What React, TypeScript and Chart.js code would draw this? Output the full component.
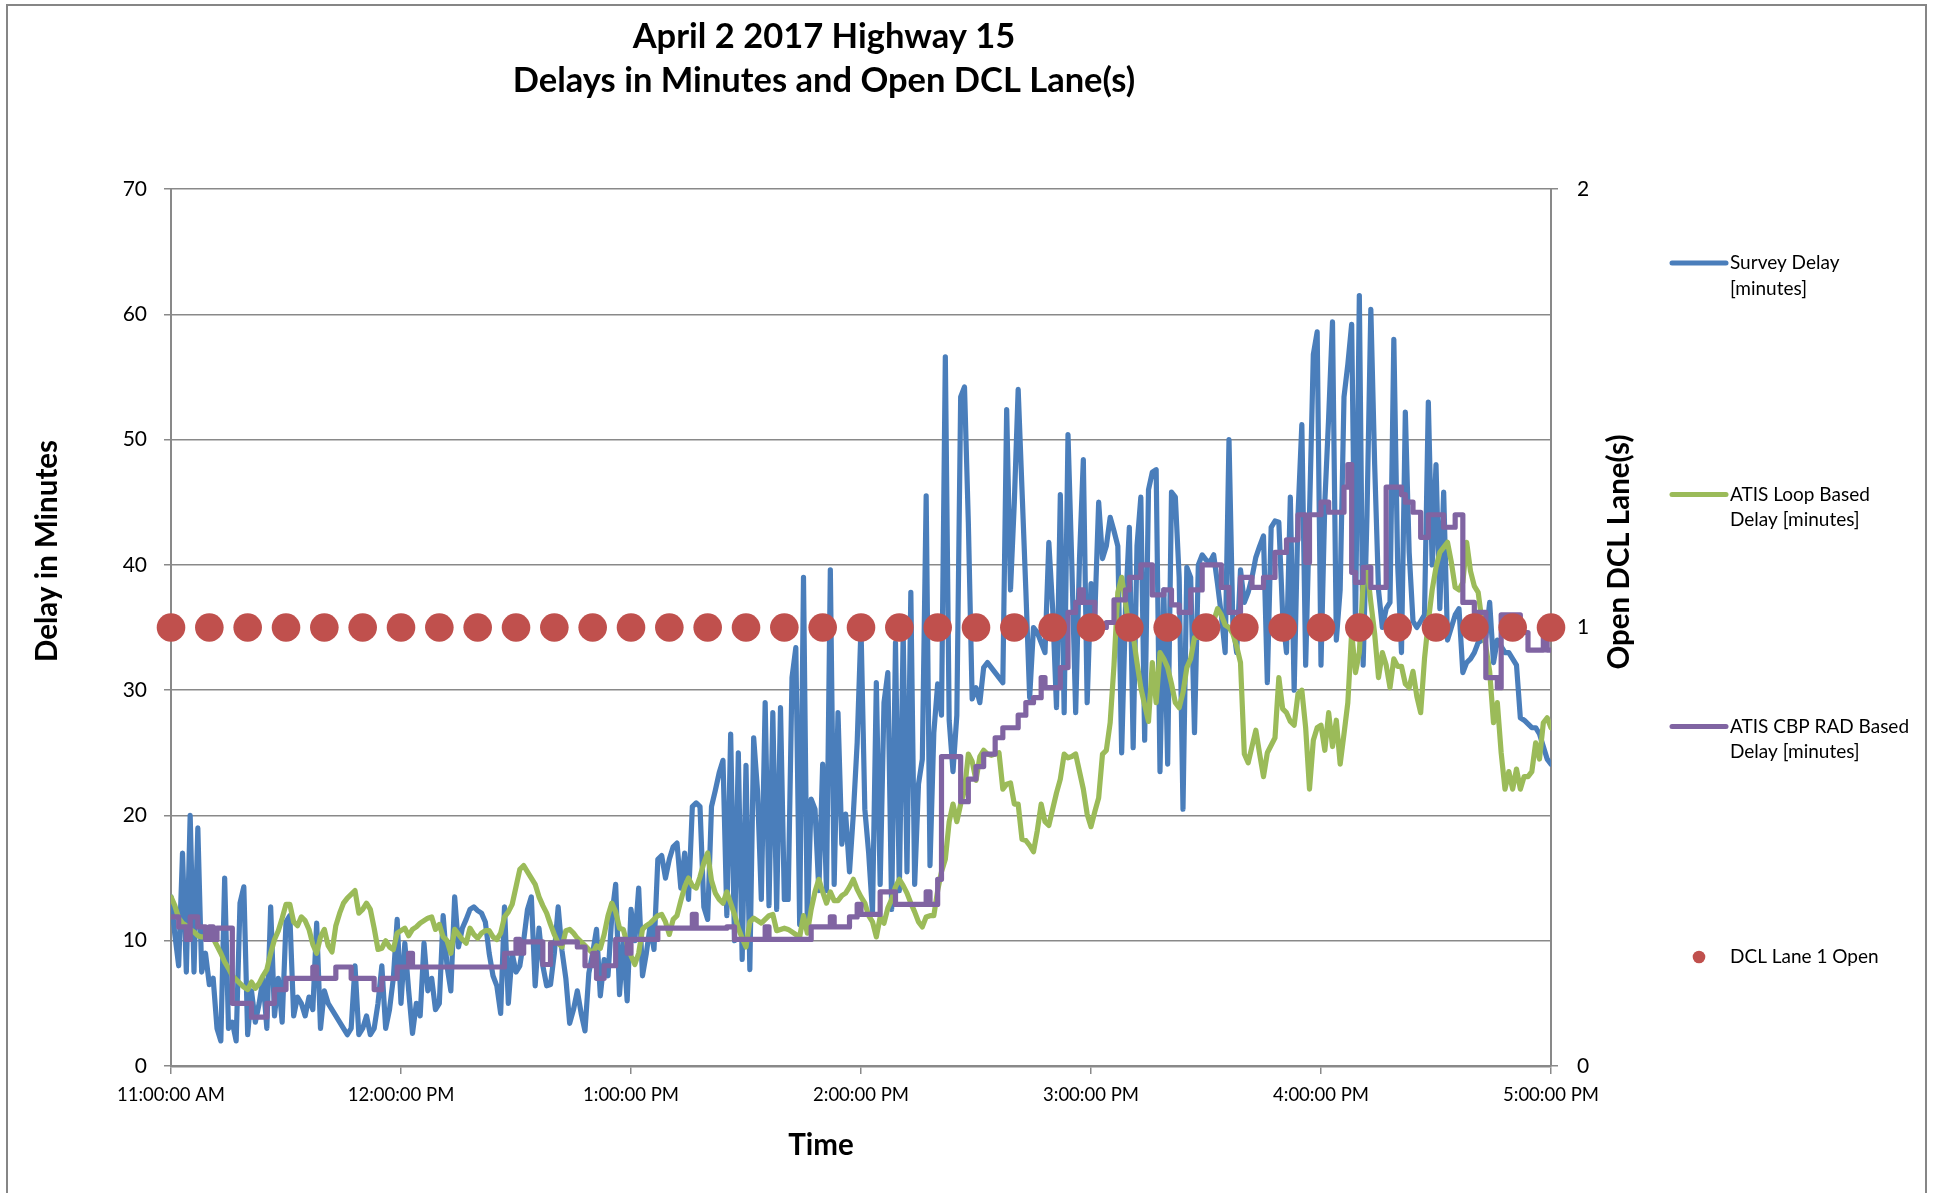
import React, { useEffect, useRef } from "react";
import { Chart, registerables } from "chart.js";

Chart.register(...registerables);

// ---------------- data ----------------
const titleLines = ["April 2 2017 Highway 15", "Delays in Minutes and Open DCL Lane(s)"];
const xAxisTitle = "Time";
const yAxisTitle = "Delay in Minutes";
const y1AxisTitle = "Open DCL Lane(s)";

// x tick labels, one per hour (x values are minutes after 11:00 AM)
const tickLabels = ["11:00:00 AM", "12:00:00 PM", "1:00:00 PM", "2:00:00 PM", "3:00:00 PM", "4:00:00 PM", "5:00:00 PM"];

const seriesNames = [
  "Survey Delay [minutes]",
  "ATIS Loop Based Delay [minutes]",
  "ATIS CBP RAD Based Delay [minutes]",
  "DCL Lane 1 Open",
];
const legendLines = [
  ["Survey Delay", "[minutes]"],
  ["ATIS Loop Based", "Delay [minutes]"],
  ["ATIS CBP RAD Based", "Delay [minutes]"],
  ["DCL Lane 1 Open"],
];

// one value per minute, 11:00 AM .. 5:00 PM
const surveyDelay = [
  13.5, 10.5, 8, 17, 7.5, 20, 7.5, 19, 7.5, 9,
  6.5, 7, 3, 2, 15, 3, 3.5, 2, 13, 14.3,
  2.5, 6, 3.5, 5, 7, 3, 12.7, 4, 7, 3.5,
  11.5, 12, 4, 5.5, 5, 4, 5.5, 4.5, 11.4, 3,
  6, 5, 4.5, 4, 3.5, 3, 2.5, 3, 8, 2.5,
  3, 4, 2.5, 3, 5, 8, 3, 4.5, 7, 11.7,
  5, 9.8, 6, 2.6, 5, 4, 9.8, 6, 7, 4.5,
  5, 12, 8, 6, 13.5, 9.5, 11, 11.7, 12.5, 12.7,
  12.4, 12.2, 11.5, 9, 7.2, 6.4, 4.2, 12.7, 5, 9,
  7.5, 8, 10, 12.5, 13.5, 6.4, 11, 8, 6.4, 6.5,
  9, 12.7, 9.2, 7, 3.4, 4.5, 6, 4.2, 2.8, 7.4,
  9, 10.9, 5.6, 8.5, 7.2, 12, 14.5, 5.7, 10, 5.2,
  12.5, 10, 14.2, 7.2, 9, 11.2, 9.3, 16.5, 16.8, 15,
  16.5, 17.5, 17.8, 14.2, 17, 13.3, 20.7, 21, 20.7, 12.7,
  11.7, 20.7, 22, 23.4, 24.4, 12, 26.5, 10, 25, 8.5,
  24, 7.7, 26.2, 22, 13.3, 29, 12.8, 28.2, 12.5, 28.6,
  13.3, 13.3, 31, 33.4, 11.3, 39, 11.3, 21.3, 20.5, 14,
  24.1, 14, 39.6, 14.5, 28.2, 17.7, 20.1, 15.5, 20.1, 25.8,
  35, 20.5, 17, 12.2, 30.6, 14.5, 29, 31.4, 12.5, 33.8,
  14, 34.6, 15.5, 37.8, 14.5, 22.5, 24.5, 45.5, 16, 26.6,
  30.5, 28, 56.6, 27.6, 23.5, 28, 53.4, 54.2, 43.4, 29.3,
  30.2, 29, 31.8, 32.2, 31.8, 31.4, 31, 30.6, 52.4, 38,
  45, 54, 46, 38, 29.4, 35, 34.6, 33.8, 33, 41.8,
  36.5, 28.6, 45.6, 28.2, 50.4, 40, 28.2, 40.5, 48.4, 29,
  38.5, 36, 45, 40.5, 41.5, 43.8, 42.7, 41.5, 25, 36.5,
  43, 25.4, 41.5, 45.4, 26, 46, 47.4, 47.6, 23.5, 38,
  24.1, 45.8, 45.4, 39, 20.5, 39.8, 39, 26.6, 40, 40.8,
  40.4, 40.2, 40.8, 38.5, 36, 33, 50, 35.4, 33, 39.6,
  37, 37.8, 39, 40.6, 41.5, 42.3, 30.6, 43, 43.5, 43.4,
  36, 33, 45.4, 30, 44, 51.2, 32, 44, 56.8, 58.6,
  32, 45, 51.8, 59.4, 34, 38, 53.4, 56, 59.2, 35,
  61.5, 32, 44, 60.4, 48, 38, 35, 36.5, 37, 58,
  40, 33, 52.2, 41, 35.5, 35, 35.5, 36, 53, 40,
  48, 36.5, 45.8, 34, 35, 36, 36.5, 31.4, 32.2, 32.5,
  33, 33.8, 34, 34.2, 37, 32.2, 34, 33.5, 33, 33,
  32.5, 32, 27.8, 27.6, 27.3, 27, 27, 26.5, 25.5, 24.5,
  24.1,
];

const atisLoopDelay = [
  13.5, 12.8, 11.8, 11.4, 11.2, 10.9, 10.7, 10.4, 10.3, 10.3,
  10.3, 10.2, 9.6, 9, 8.3, 7.8, 7.2, 6.9, 6.6, 6.3,
  6.1, 6.7, 6.2, 6.6, 7.2, 7.7, 9, 10.1, 10.8, 11.8,
  12.9, 12.9, 11.5, 11.2, 11.9, 11.6, 10.9, 9.7, 9, 10.3,
  10.9, 9.6, 9.1, 11.2, 12.2, 13, 13.4, 13.7, 14, 12.2,
  12.5, 13, 12.5, 11, 9.3, 9.4, 10, 9.5, 9.3, 10.6,
  10.8, 11, 10.4, 10.9, 11.1, 11.4, 11.6, 11.8, 11.9, 10.9,
  11.3, 10.3, 10, 9, 10.9, 10.5, 10.1, 9.8, 11, 10.5,
  10.2, 10.6, 10.8, 10.8, 10.3, 10.1, 10.6, 11.9, 12.3, 12.9,
  14.3, 15.7, 16, 15.5, 15, 14.5, 13.5, 12.8, 12.2, 11.3,
  10.5, 9.8, 9.5, 10.8, 10.9, 10.6, 10.2, 9.9, 9.6, 9.3,
  9, 9.6, 9.4, 10.5, 12, 13, 12.3, 11, 10.9, 9.7,
  8.8, 8.1, 9, 10.9, 11.2, 11.4, 11.7, 12, 12.1, 11.5,
  10.5, 11.7, 12, 13.2, 14.3, 15, 14.4, 14.2, 15.1, 16.2,
  17, 14.8, 13.8, 13.3, 13, 13.9, 13, 12.1, 11, 10.2,
  9.5, 11.5, 11.8, 11.6, 11.4, 11.7, 12, 12.1, 10.8, 10.9,
  11, 10.9, 10.7, 10.5, 10.3, 12, 10.6, 12.5, 13.9, 14.9,
  13.9, 13, 13.9, 13.2, 13.2, 13.6, 13.8, 14.3, 14.9, 14.1,
  13.5, 13, 12, 11.5, 10.3, 11.9, 11.4, 12.6, 13.3, 14.3,
  14.9, 14.4, 13.8, 13, 12.3, 11.5, 11.1, 11.9, 12, 12,
  14, 15.5, 16.5, 19.5, 20.9, 19.5, 20.9, 22, 24.9, 24.3,
  22.8, 24.7, 25.2, 24.9, 24.8, 24.9, 25, 22.1, 22.5, 22.6,
  20.9, 20.9, 18.1, 18, 17.6, 17.1, 18.8, 20.9, 19.5, 19.2,
  20.5, 21.8, 22.9, 24.9, 24.6, 24.7, 24.9, 23.5, 22.1, 20.1,
  19.1, 20.3, 21.4, 24.9, 25.2, 27.4, 32, 37.8, 39, 37,
  34.8, 34.4, 32.2, 30.2, 28.8, 27.5, 32.2, 29, 33, 32.5,
  31.8, 30.5, 29, 28.6, 29.8, 31.8, 32.5, 34.2, 34.2, 35,
  35, 35, 35.5, 36.5, 36, 35.2, 35, 34.5, 33.5, 32.2,
  24.9, 24.2, 25.5, 26.8, 24.9, 23.1, 25, 25.6, 26.2, 31,
  28.5, 28.2, 27.5, 27.2, 29.7, 30, 27, 22.1, 26, 27,
  27.2, 25.2, 28.2, 25.5, 27.6, 24.1, 26.5, 29, 34.6, 31.4,
  33, 38.6, 39.8, 37, 34.5, 31, 33, 32, 30.2, 32.5,
  31.9, 31.9, 30.5, 30.2, 31.5, 29.5, 28.2, 32.5, 35.5, 38,
  39.8, 41, 41.4, 41.8, 40.2, 38.2, 38, 38.6, 41.8, 39.5,
  38.3, 37.8, 35.5, 33.5, 31.5, 27.4, 29, 25, 22.1, 23.5,
  22.1, 23.7, 22.1, 23.1, 23.1, 23.5, 25.8, 24.5, 27.4, 27.8,
  27,
];

const atisCbpDelay = [
  11.9, 11.9, 11.1, 11.1, 10.1, 11.9, 11.9, 11.1, 11.1, 10.1,
  11.1, 10.1, 11, 11, 11, 11, 5, 5, 5, 5,
  5, 3.9, 3.9, 3.9, 3.9, 5, 5, 6.1, 6.1, 6.1,
  7, 7, 7, 7, 7, 7, 7, 7.9, 7, 7,
  7, 7, 7, 7.9, 7.9, 7.9, 7.9, 7, 7, 7,
  7, 7, 7, 6.1, 6.1, 7, 7, 7, 7, 7.9,
  7.9, 7.9, 9, 7.9, 7.9, 7.9, 7.9, 7.9, 7.9, 7.9,
  7.9, 7.9, 7.9, 7.9, 7.9, 7.9, 7.9, 7.9, 7.9, 7.9,
  7.9, 7.9, 7.9, 7.9, 7.9, 7.9, 7.9, 9, 9, 9,
  10.1, 9, 9.9, 9.9, 9.9, 9.9, 9.9, 8.1, 8.1, 9.8,
  9.8, 9.8, 9.9, 9.9, 9.9, 9.9, 9.5, 9.5, 8, 8,
  9, 7, 7, 8, 8, 8, 10.1, 10.1, 10.1, 9,
  10.1, 10.1, 10.1, 10.1, 10.1, 10.1, 10.1, 11, 11, 11,
  11, 11, 11, 11, 11, 11, 12.1, 11, 11, 11,
  11, 11, 11, 11, 11, 11.1, 11.1, 10.1, 10.1, 10.1,
  10.1, 10.1, 10.1, 10.1, 10.1, 11.1, 10.1, 10.1, 10.1, 10.1,
  10.1, 10.1, 10.1, 10.1, 10.1, 10.1, 10.1, 11.1, 11.1, 11.1,
  11.1, 11.1, 11.9, 11.1, 11.1, 11.1, 11.1, 11.9, 11.9, 12.9,
  12.1, 12.1, 12.1, 12.1, 12.1, 13.9, 13.9, 13.9, 13.9, 12.9,
  12.9, 12.9, 12.9, 12.9, 12.9, 12.9, 12.9, 13.9, 12.9, 12.9,
  14.9, 24.7, 24.7, 24.7, 24.7, 24.7, 21.1, 21.1, 22.9, 22.9,
  23.9, 23.9, 24.9, 24.9, 24.9, 26.2, 26.2, 27, 27, 27,
  27, 28, 28, 29, 29, 29.4, 29.4, 31, 30.2, 30.2,
  30.2, 30.2, 31.8, 31.8, 36.2, 36.2, 37, 38, 37, 37,
  37, 35, 35, 35, 35.4, 35.4, 37.2, 37.2, 37.2, 38,
  39, 39, 39, 40, 40, 40, 37.6, 37.6, 37.6, 38,
  38, 36.8, 36.8, 36.2, 36.2, 36.2, 38, 38, 38, 40,
  40, 40, 40, 40, 38.2, 38.2, 36.2, 36.2, 36.2, 39,
  39, 39, 38.2, 38.2, 38.2, 39, 39, 39, 41, 41,
  41, 42, 42, 42, 44, 44, 40.2, 44, 44, 44,
  45, 45, 44.2, 44.2, 44.2, 44.2, 46.2, 48, 39.4, 38.6,
  38.6, 39.8, 39.8, 38.2, 38.2, 38.2, 38.2, 46.2, 46.2, 46.2,
  46.2, 45.6, 45, 45, 44.2, 44.2, 42.2, 42.2, 44, 44,
  44, 44, 43, 43, 43, 44, 44, 37, 37, 37,
  36.2, 36.2, 36.2, 31, 31, 31, 30.2, 36, 36, 36,
  36, 36, 34.6, 34.6, 33.2, 33.2, 33.2, 33.2, 34.6, 33.2,
  33.2,
];

// DCL lane open markers (secondary axis), every 10 minutes
const dclTimes = [0, 10, 20, 30, 40, 50, 60, 70, 80, 90, 100, 110, 120, 130, 140, 150, 160, 170, 180, 190, 200, 210, 220, 230, 240, 250, 260, 270, 280, 290, 300, 310, 320, 330, 340, 350, 360];
const dclOpen = [1, 1, 1, 1, 1, 1, 1, 1, 1, 1, 1, 1, 1, 1, 1, 1, 1, 1, 1, 1, 1, 1, 1, 1, 1, 1, 1, 1, 1, 1, 1, 1, 1, 1, 1, 1, 1];

// ---------------- styles ----------------
const FONT = "Lato, 'Open Sans', 'DejaVu Sans', sans-serif";
const GRID = "#898989";
const COLORS = ["#4A7EBB", "#9BBB59", "#8064A2", "#C0504D"];

const W = 1933;
const H = 1193;

const decorPlugin = {
  id: "decor",
  beforeDraw(chart: any) {
    const { ctx } = chart;
    ctx.save();
    ctx.fillStyle = "#ffffff";
    ctx.fillRect(0, 0, W, H);
    ctx.strokeStyle = "#868686";
    ctx.lineWidth = 2;
    ctx.strokeRect(7, 5, 1919, 1210);
    ctx.restore();
  },
  afterDraw(chart: any) {
    const { ctx } = chart;
    ctx.save();
    ctx.fillStyle = "#000";
    ctx.textAlign = "center";
    ctx.textBaseline = "middle";
    ctx.font = `bold 34.5px ${FONT}`;
    ctx.fillText(titleLines[0], 824, 37);
    ctx.fillText(titleLines[1], 824, 81);

    ctx.font = `bold 29.5px ${FONT}`;
    ctx.fillText(xAxisTitle, 821, 1145);
    ctx.save();
    ctx.translate(47, 551);
    ctx.rotate(-Math.PI / 2);
    ctx.fillText(yAxisTitle, 0, 0);
    ctx.restore();
    ctx.save();
    ctx.translate(1619, 552);
    ctx.rotate(-Math.PI / 2);
    ctx.fillText(y1AxisTitle, 0, 0);
    ctx.restore();

    // legend
    const entryY = [263, 494.5, 726.5, 957];
    ctx.textAlign = "left";
    ctx.font = `19px ${FONT}`;
    legendLines.forEach((lines, i) => {
      const y = entryY[i];
      if (i < 3) {
        ctx.strokeStyle = COLORS[i];
        ctx.lineWidth = 5;
        ctx.lineCap = "round";
        ctx.beginPath();
        ctx.moveTo(1672, y);
        ctx.lineTo(1726, y);
        ctx.stroke();
      } else {
        ctx.fillStyle = COLORS[3];
        ctx.beginPath();
        ctx.arc(1699, y, 6.3, 0, Math.PI * 2);
        ctx.fill();
      }
      ctx.fillStyle = "#000";
      lines.forEach((t, j) => ctx.fillText(t, 1730, y + j * 25.5));
    });
    ctx.restore();
  },
};

export default function App() {
  const ref = useRef<HTMLCanvasElement | null>(null);

  useEffect(() => {
    if (!ref.current) return;
    const toXY = (arr: number[]) => arr.map((v, i) => ({ x: i, y: v }));
    const lineDs = (label: string, data: number[], color: string, order: number, extra: any = {}) => ({
      type: "line",
      label,
      data: toXY(data),
      borderColor: color,
      backgroundColor: color,
      borderWidth: 5.2,
      pointRadius: 0,
      fill: false,
      tension: 0,
      borderJoinStyle: "round",
      borderCapStyle: "round",
      yAxisID: "y",
      order,
      ...extra,
    });

    const chart = new Chart(ref.current, {
      type: "line",
      data: {
        datasets: [
          lineDs(seriesNames[0], surveyDelay, COLORS[0], 3),
          lineDs(seriesNames[1], atisLoopDelay, COLORS[1], 2),
          lineDs(seriesNames[2], atisCbpDelay, COLORS[2], 1, { stepped: true }),
          {
            type: "line",
            label: seriesNames[3],
            data: dclTimes.map((t, i) => ({ x: t, y: dclOpen[i] })),
            showLine: false,
            pointRadius: 14.3,
            pointBackgroundColor: COLORS[3],
            pointBorderWidth: 0,
            pointBorderColor: COLORS[3],
            backgroundColor: COLORS[3],
            borderColor: COLORS[3],
            yAxisID: "y1",
            clip: false,
            order: 0,
          },
        ] as any,
      },
      options: {
        animation: false,
        responsive: false,
        devicePixelRatio: 1,
        events: [],
        layout: { padding: { left: 0, top: 189, right: 282, bottom: 67 } },
        plugins: {
          legend: { display: false },
          title: { display: false },
          tooltip: { enabled: false },
        },
        scales: {
          x: {
            type: "linear",
            min: 0,
            max: 360,
            afterFit: (s: any) => {
              s.height = 60;
            },
            ticks: {
              stepSize: 60,
              autoSkip: false,
              maxRotation: 0,
              minRotation: 0,
              padding: 10,
              color: "#000",
              font: { family: FONT, size: 18.5 },
              callback: (v: any) => tickLabels[Math.round(Number(v) / 60)] ?? "",
            },
            grid: { drawOnChartArea: false, drawTicks: true, tickLength: 8, color: GRID, lineWidth: 1.5 },
            border: { display: true, color: GRID, width: 2.5 },
          },
          y: {
            position: "left",
            min: 0,
            max: 70,
            afterFit: (s: any) => {
              s.width = 171;
            },
            ticks: { stepSize: 10, padding: 17, color: "#000", font: { family: FONT, size: 21 } },
            grid: { color: GRID, lineWidth: 1.5, tickLength: 7 },
            border: { display: true, color: GRID, width: 2 },
          },
          y1: {
            position: "right",
            min: 0,
            max: 2,
            afterFit: (s: any) => {
              s.width = 100;
            },
            ticks: { stepSize: 1, padding: 19, color: "#000", font: { family: FONT, size: 21 } },
            grid: { drawOnChartArea: false, color: GRID, lineWidth: 1.5, tickLength: 7 },
            border: { display: true, color: GRID, width: 2 },
          },
        },
      } as any,
      plugins: [decorPlugin],
    });
    return () => chart.destroy();
  }, []);

  return (
    <div style={{ position: "fixed", left: 0, top: 0, width: W, height: H, background: "#fff" }}>
      <canvas ref={ref} width={W} height={H} style={{ display: "block", width: W, height: H }} />
    </div>
  );
}
